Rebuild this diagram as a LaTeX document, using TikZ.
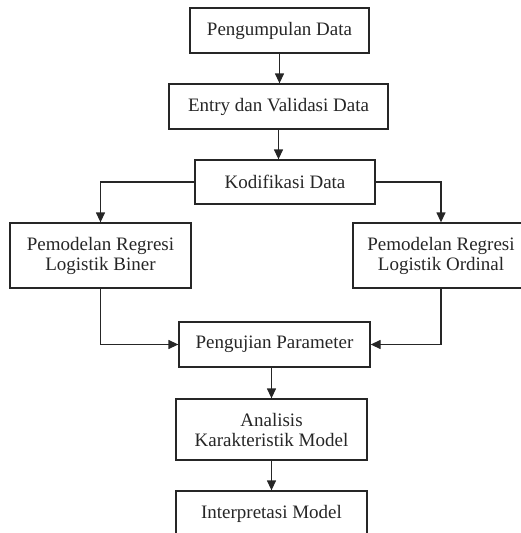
\documentclass[tikz,border=0pt]{standalone}
\usepackage{fontspec}
\setmainfont{Liberation Serif}
\usetikzlibrary{arrows.meta}
\tikzset{
  kotak/.style={draw=black!85,line width=1.3pt,align=center,inner sep=0pt,font=\fontsize{19}{20}\selectfont,text=black!85},
  panah/.style={draw=black!85,line width=1.3pt,-{Triangle[length=10pt,width=9pt]}}
}
\begin{document}
\begin{tikzpicture}[x=1pt,y=-1pt]
\useasboundingbox (0,0) rectangle (520,533);
\node[kotak,minimum width=179,minimum height=45] (kumpul) at (279.5,30.5) {Pengumpulan Data};
\node[kotak,minimum width=219,minimum height=45] (entry) at (278.5,106.5) {Entry dan Validasi Data};
\node[kotak,minimum width=180,minimum height=44] (kodif) at (285,182) {Kodifikasi Data};

\node[kotak,minimum width=181,minimum height=65] (biner) at (100.5,255.5) {Pemodelan Regresi\\Logistik Biner};
\node[kotak,minimum width=176,minimum height=65] (ordinal) at (441,255.5) {Pemodelan Regresi\\Logistik Ordinal};

\node[kotak,minimum width=191,minimum height=45] (uji) at (274.5,344.5) {Pengujian Parameter};
\node[kotak,minimum width=191,minimum height=61] (analisis) at (271.5,429.5) {Analisis\\Karakteristik Model};
\node[kotak,minimum width=191,minimum height=45] (interp) at (271.5,513.5) {Interpretasi Model};

\draw[panah] (kumpul.south) -- (kumpul.south |- entry.north);
\draw[panah] (entry.south) -- (entry.south |- kodif.north);
\draw[panah] (kodif.west) -| (biner.north);
\draw[panah] (kodif.east) -| (ordinal.north);
\draw[panah] (biner.south) |- (uji.west);
\draw[panah] (ordinal.south) |- (uji.east);
\draw[panah] (uji.south -| analisis.north) -- (analisis.north);
\draw[panah] (analisis.south) -- (interp.north);
\end{tikzpicture}
\end{document}
